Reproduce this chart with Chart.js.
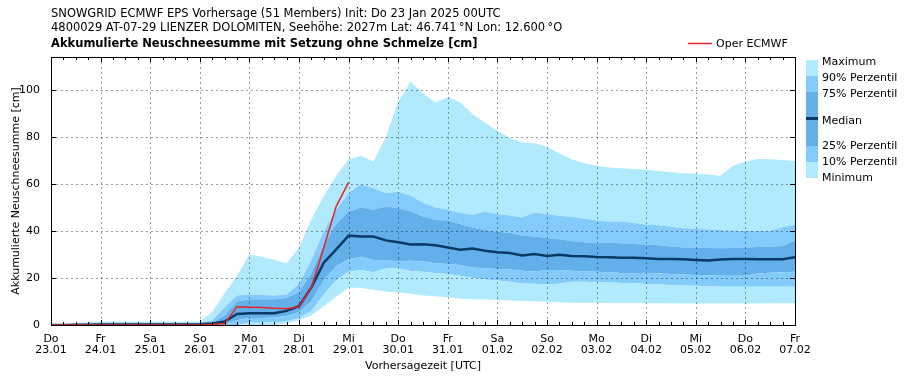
<!DOCTYPE html>
<html>
<head>
<meta charset="utf-8">
<script src="https://cdn.jsdelivr.net/npm/chart.js@4.4.1/dist/chart.umd.min.js"></script>
<style>
html,body{margin:0;padding:0;background:#fff;}
#wrap{position:relative;width:909px;height:380px;}
</style>
</head>
<body>
<div id="wrap"><canvas id="c" width="909" height="380"></canvas></div>
<script>
// forecast hours (6-hourly steps)
const hours = [0,6,12,18,24,30,36,42,48,54,60,66,72,78,84,90,96,102,108,114,120,126,132,138,144,150,156,162,168,174,180,186,192,198,204,210,216,222,228,234,240,246,252,258,264,270,276,282,288,294,300,306,312,318,324,330,336,342,348,354,360];
const dayNames = ['Do','Fr','Sa','So','Mo','Di','Mi','Do','Fr','Sa','So','Mo','Di','Mi','Do','Fr'];
const dayDates = ['23.01','24.01','25.01','26.01','27.01','28.01','29.01','30.01','31.01','01.02','02.02','03.02','04.02','05.02','06.02','07.02'];
const yTicks = [0,20,40,60,80,100];

const maxV = [0,0.3,0.8,1.2,1.5,1.5,1.5,1.5,1.5,1.5,1.5,1.5,1.5,
  5.5,13.5,21,30,29,27.8,26.2,33,45,55,63.5,70.5,72,69.5,80,95,103.5,98.6,94.6,97,94.6,89.8,86,82.5,79.5,77.6,77.3,75.8,73,70.5,68.8,67.7,67,66.7,66.4,66,65.5,65,64.5,64.3,64,63.5,67.7,69.6,70.6,70.5,70.2,69.8];
const p90 = [0,0.2,0.5,0.7,0.8,0.8,0.8,0.8,0.8,0.8,0.8,0.8,0.8,
  2,7.5,12.5,13,12.8,12.6,13,17.5,27.5,40,49,56,60,58.2,56,56.7,55,52,50,49,47.8,46.8,48.2,47.2,46.6,45.7,47.8,47.2,46.4,46,45.2,44.4,44,44,43.4,42.8,42.4,41.8,41.2,40.9,40.6,40.4,40.2,40.1,40.1,40.1,41.6,42.6];
const p75 = [0,0.1,0.3,0.4,0.5,0.5,0.5,0.5,0.5,0.5,0.5,0.5,0.5,
  1,4,10,11,11,11,11.5,14,22,34,43,48.2,50,49,50.4,49.7,48.3,46.2,44.7,44.4,43,41.4,40.4,39.7,39.2,38.1,37.6,36.9,36.5,35.7,35.2,34.8,35,34.8,34.5,34.2,33.9,33.4,33,33,32.8,32.6,32.8,33,33.2,33.3,33.6,35.9];
const median = [0,0,0.1,0.1,0.2,0.2,0.2,0.2,0.2,0.2,0.2,0.2,0.3,
  0.6,1.5,4.7,5,5,5,6,8,16,26.5,32.2,38,37.6,37.6,36,35.2,34.2,34.3,33.9,33,32,32.5,31.6,30.9,30.6,29.6,30.2,29.4,29.9,29.4,29.2,28.9,28.8,28.6,28.6,28.4,28.1,28.1,28,27.7,27.4,27.9,28.1,28.1,28,28,28,28.8];
const p25 = [0,0,0,0,0,0,0,0,0,0,0,0,0,
  0.2,0.5,2,3,3,3.2,3.8,5.5,10,19,25,28,29,27.7,27.7,27,27.3,27,26.3,26,25.5,24.5,24.1,23.8,23.6,23.1,22.8,23.4,23.4,23.1,22.8,22.7,22.4,22.1,22,22.2,22,21.7,21.5,21.3,21.2,21,20.9,20.9,21.9,22.2,22.4,22.7];
const p10 = [0,0,0,0,0,0,0,0,0,0,0,0,0,0,0,0,
  1,1,1.2,1.5,3,6,13,19,22.7,23.4,22.4,24,24.1,23,22.7,22.1,21.7,20.9,20,19.4,18.9,18.4,17.7,17.5,17.3,17.5,18.4,18.4,18.2,18.1,17.9,17.9,17.4,17.3,16.9,16.8,16.7,16.5,16.3,16.3,16.3,16.3,16.3,16.3,16.3];
const minV = [0,0,0,0,0,0,0,0,0,0,0,0,0,0,0,0,0,0,0,
  0.7,2,4,8,12,16,15.7,15,14.3,13.9,13.3,12.6,12.2,11.8,11.3,11,10.8,10.6,10.4,10.2,10.1,9.9,9.7,9.5,9.5,9.5,9.4,9.4,9.4,9.3,9.3,9.2,9.1,9.1,9.1,9.1,9.1,9.1,9.1,9.2,9.2,9.2];
const oper = [0,0,0,0,0,0,0,0,0,0,0,0,0,0.2,0.6,7.8,7.6,7.4,7.1,6.9,7.8,16,33,50.5,60.7];

const C_MAX = 'rgb(178,234,253)';
const C_90 = 'rgb(130,203,250)';
const C_75 = 'rgb(99,175,234)';
const C_MED = 'rgb(10,58,102)';
const C_RED = 'rgb(232,36,40)';
const FONT = '"DejaVu Sans", sans-serif';

const pts = arr => arr.map((v,i)=>({x:hours[i], y:v}));
const band = (label, arr, fill, color, order) => ({
  label, data: pts(arr), fill, backgroundColor: color, borderWidth: 0,
  pointRadius: 0, tension: 0, order
});

const decor = {
  id:'decor',
  beforeDatasetsDraw(chart){
    const {ctx, chartArea:a, scales:{x,y}} = chart;
    ctx.save();
    ctx.strokeStyle = 'rgba(0,0,0,0.38)';
    ctx.lineWidth = 1;
    ctx.setLineDash([2,3]);
    for (let d=1; d<dayNames.length-1; d++){
      const px = Math.round(x.getPixelForValue(d*24))+0.5;
      ctx.beginPath(); ctx.moveTo(px,a.top); ctx.lineTo(px,a.bottom); ctx.stroke();
    }
    yTicks.forEach(v=>{
      if (v===0) return;
      const py = Math.round(y.getPixelForValue(v))+0.5;
      ctx.beginPath(); ctx.moveTo(a.left,py); ctx.lineTo(a.right,py); ctx.stroke();
    });
    ctx.restore();
  },
  afterDatasetsDraw(chart){
    const {ctx, chartArea:a, scales:{x,y}} = chart;
    ctx.save();
    ctx.strokeStyle = '#000';
    ctx.lineWidth = 1;
    ctx.setLineDash([]);
    ctx.strokeRect(Math.round(a.left)+0.5, Math.round(a.top)+0.5, Math.round(a.right-a.left), Math.round(a.bottom-a.top));
    ctx.beginPath();
    hours.forEach(h=>{
      const px = Math.round(x.getPixelForValue(h))+0.5;
      const len = (h%24===0)?5:3;
      ctx.moveTo(px,a.bottom); ctx.lineTo(px,a.bottom-len);
      ctx.moveTo(px,a.top); ctx.lineTo(px,a.top+len);
    });
    yTicks.forEach(v=>{
      const py = Math.round(y.getPixelForValue(v))+0.5;
      ctx.moveTo(a.left,py); ctx.lineTo(a.left+5,py);
      ctx.moveTo(a.right,py); ctx.lineTo(a.right-5,py);
    });
    ctx.stroke();
    ctx.restore();
  },
  afterDraw(chart){
    const {ctx, chartArea:a} = chart;
    ctx.save();
    ctx.fillStyle = '#000';
    ctx.textBaseline = 'alphabetic';
    ctx.textAlign = 'left';
    ctx.font = '11.5px ' + FONT;
    ctx.fillText('SNOWGRID ECMWF EPS Vorhersage (51 Members) Init: Do 23 Jan 2025 00UTC', 51, 17);
    ctx.fillText('4800029 AT-07-29 LIENZER DOLOMITEN, Seehöhe: 2027m Lat: 46.741\u2009\u00B0N Lon: 12.600\u2009\u00B0O', 51, 31);
    ctx.font = 'bold 11.5px ' + FONT;
    ctx.fillText('Akkumulierte Neuschneesumme mit Setzung ohne Schmelze [cm]', 51, 47);
    // Oper legend
    ctx.strokeStyle = C_RED; ctx.lineWidth = 1.5;
    ctx.beginPath(); ctx.moveTo(688,43.5); ctx.lineTo(712,43.5); ctx.stroke();
    ctx.font = '11px ' + FONT;
    ctx.fillText('Oper ECMWF', 716, 47);
    // percentile legend bar
    const bx = 806, bw = 12;
    const segs = [[60,76,C_MAX],[76,92,C_90],[92,146,C_75],[146,162,C_90],[162,178,C_MAX]];
    segs.forEach(s=>{ ctx.fillStyle = s[2]; ctx.fillRect(bx, s[0], bw, s[1]-s[0]); });
    ctx.fillStyle = C_MED; ctx.fillRect(bx, 117, bw, 3);
    ctx.fillStyle = '#000';
    const labs = [['Maximum',65],['90% Perzentil',81],['75% Perzentil',97],['Median',124],['25% Perzentil',149],['10% Perzentil',165],['Minimum',181]];
    labs.forEach(l=>ctx.fillText(l[0], 822, l[1]));
    // axis titles
    ctx.textAlign = 'center';
    ctx.fillText('Vorhersagezeit [UTC]', (a.left+a.right)/2, 369);
    ctx.translate(19, (a.top+a.bottom)/2);
    ctx.rotate(-Math.PI/2);
    ctx.fillText('Akkumulierte Neuschneesumme [cm]', 0, 0);
    ctx.restore();
  }
};

new Chart(document.getElementById('c'), {
  type: 'line',
  data: {
    datasets: [
      band('Minimum', minV, false, C_MAX, 5),
      band('10% Perzentil', p10, 0, C_MAX, 5),
      band('25% Perzentil', p25, 1, C_90, 5),
      {label:'Median', data: pts(median), borderColor: C_MED, borderWidth: 2.5, pointRadius: 0, tension: 0, fill: false, order: 1},
      band('75% Perzentil', p75, 2, C_75, 5),
      band('90% Perzentil', p90, 4, C_90, 5),
      band('Maximum', maxV, 5, C_MAX, 5),
      {label:'Oper ECMWF', data: pts(oper), borderColor: C_RED, borderWidth: 1.5, pointRadius: 0, tension: 0, fill: false, order: 0}
    ]
  },
  options: {
    responsive: false,
    animation: false,
    devicePixelRatio: 1,
    layout: {padding: {top: 57, right: 114, bottom: 0, left: 0}},
    plugins: {legend: {display: false}, tooltip: {enabled: false}, title: {display: false}, filler: {drawTime: 'beforeDatasetsDraw'}},
    scales: {
      x: {
        type: 'linear', min: 0, max: 360,
        grid: {display: false}, border: {display: false},
        afterFit: s => { s.height = 55; },
        ticks: {stepSize: 24, autoSkip: false, maxRotation: 0, padding: 1, color: '#000',
          font: {family: FONT, size: 11, lineHeight: 1.0},
          callback: v => { const i = Math.round(v/24); return [dayNames[i], dayDates[i]]; }}
      },
      y: {
        type: 'linear', min: 0, max: 114,
        grid: {display: false}, border: {display: false},
        afterFit: s => { s.width = 51; },
        afterBuildTicks: s => { s.ticks = yTicks.map(v=>({value: v})); },
        ticks: {padding: 3, color: '#000', font: {family: FONT, size: 11}}
      }
    }
  },
  plugins: [decor]
});
</script>
</body>
</html>
